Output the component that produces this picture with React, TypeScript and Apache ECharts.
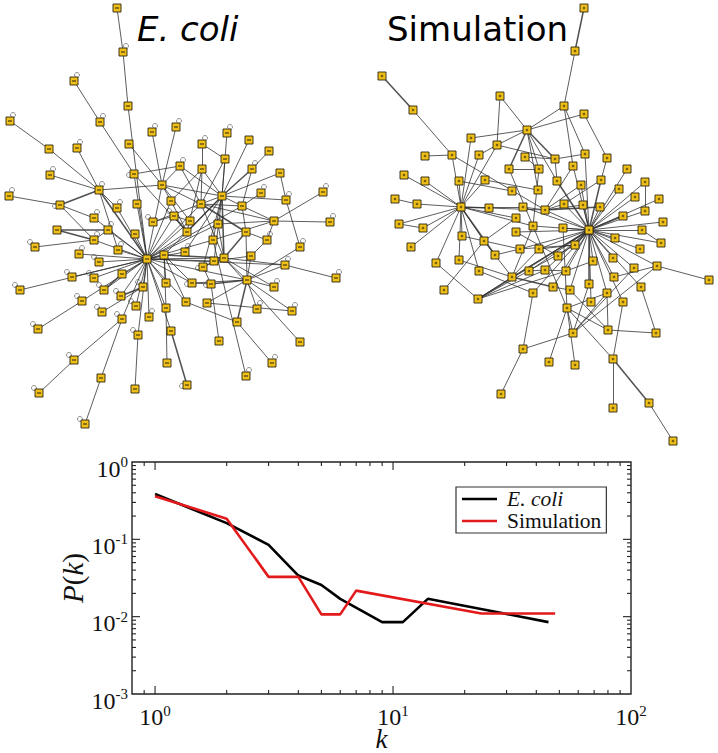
import React, { useEffect, useRef } from "react";
import * as echarts from "echarts";

const blackK = [1, 2, 3, 4, 5, 6, 9, 11, 14, 24, 45];
const blackP = [0.385, 0.162, 0.085, 0.034, 0.0257, 0.017, 0.0085, 0.0085, 0.017, 0.0124, 0.0085];
const redK = [1, 2, 3, 4, 5, 6, 7, 23.5, 48];
const redP = [0.36, 0.185, 0.0327, 0.0327, 0.0107, 0.0107, 0.0217, 0.011, 0.011];
const xMajor = [1, 10];
const xMinor = [0.9, 2, 3, 4, 5, 6, 7, 8, 9, 20, 30, 40, 50, 60, 70, 80, 90];
const yMajor = [0.1, 0.01];
const yMinor = [0.9, 0.8, 0.7, 0.6, 0.5, 0.4, 0.3, 0.2, 0.09, 0.08, 0.07, 0.06, 0.05, 0.04, 0.03, 0.02, 0.009, 0.008, 0.007, 0.006, 0.005, 0.004, 0.003, 0.002];
const xLabels = [1, 10, 100];
const yLabels = [1, 0.1, 0.01, 0.001];

const ecoliNodes: number[][] = [
  [117,8],[123,52],[128,106],[74,81],[100,122],[10,121],[49,149],[77,148],[129,144],[152,132],
  [176,127],[202,144],[227,133],[249,140],[269,151],[225,159],[180,166],[202,169],[252,169],[280,173],
  [134,174],[50,175],[162,185],[99,190],[222,196],[261,193],[323,192],[286,200],[9,196],[171,201],
  [60,205],[137,204],[201,204],[242,206],[117,208],[174,216],[94,218],[153,222],[190,221],[218,224],
  [274,221],[330,222],[246,232],[187,232],[135,234],[108,230],[57,230],[94,240],[213,240],[267,240],
  [118,250],[35,247],[300,247],[79,254],[185,252],[164,255],[147,259],[251,256],[224,258],[99,262],
  [214,261],[203,267],[285,265],[122,274],[72,277],[94,278],[247,280],[336,278],[166,283],[192,283],
  [211,284],[20,290],[104,290],[274,287],[143,287],[121,296],[82,301],[136,306],[186,302],[207,303],
  [166,308],[102,312],[257,309],[292,311],[149,317],[122,319],[38,329],[237,322],[171,331],[138,335],
  [219,341],[300,342],[74,360],[272,363],[167,363],[246,376],[101,378],[187,385],[135,389],[39,393],[85,424],
];
const ecoliEdges: number[][] = [
  [0,1],[1,2],[2,56],[3,4],[4,20],[5,6],[6,23],[7,23],[8,22],[9,22],[10,22],[22,56],[22,24],[22,32],[22,38],
  [16,20],[16,22],[16,24],[16,32],[11,15],[11,17],[17,32],[17,24],[12,24],[13,24],[15,24],[15,32],[14,18],
  [18,33],[19,24],[19,27],[27,52],[25,33],[26,40],[24,27],[23,22],[21,23],[28,30],[30,36],[30,47],[23,34],
  [23,50],[20,56],[20,43],[31,56],[34,56],[36,56],[35,37],[29,17],[29,22],[29,56],[35,56],[38,56],[54,56],
  [43,56],[39,56],[48,56],[32,56],[33,56],[76,86],[76,56],[85,92],[92,99],[85,96],[96,100],[89,98],[89,56],[94,80],
  [80,55],[88,56],[71,56],[64,56],[65,56],[66,57],[66,62],[66,73],[66,82],[66,83],[66,79],[66,69],[78,87],
  [87,93],[95,48],[79,83],[91,58],[66,52],[67,62],[62,58],[90,70],[70,69],[61,60],[61,58],[60,57],[57,49],
  [42,66],[24,60],[39,58],[32,58],[32,33],[32,40],[33,40],[33,24],[33,42],[39,40],[40,41],[40,48],[40,49],
  [42,49],[35,38],[24,48],[45,47],[45,56],[47,56],[51,47],[55,68],[55,69],[55,78],[55,56],[59,56],[53,56],
  [72,56],[75,56],[81,74],[77,56],[84,56],[78,56],[68,56],[58,56],[60,56],[62,56],[69,56],[66,56],[44,56],
  [50,56],[63,56],[74,56],[85,56],[80,56],[55,24],[54,24],[43,17],[37,24],[29,43],[61,24],[61,70],[58,66],[58,73],
];
const ecoliHeavy: number[][] = [
  [23,30],[23,56],[45,46],[46,47],[18,24],[58,42],[24,58],[32,42],[35,43],[43,24],[87,66],[70,66],[55,58],[97,88],[75,74],[72,63],
];
const ecoliLoopsUR = [1,3,4,5,7,9,10,11,12,16,18,21,25,26,27,28,36,34,47,45,50,41,49,52,53,54,73,83,84,62,67,93,95,82,23];
const ecoliLoopsUL = [37,51,59,64,65,71,72,75,76,81,85,86,89,92,99,100,77,35,74];
const ecoliLoopsL = [20,30,32,61,70,97,69];

const simNodes: number[][] = [
  [584,8],[575,51],[382,76],[413,110],[564,106],[500,96],[584,114],[527,130],[471,138],[497,145],
  [452,155],[425,156],[479,155],[525,157],[555,159],[585,154],[607,158],[573,166],[509,169],[539,169],
  [627,169],[404,175],[425,181],[459,181],[485,180],[557,181],[645,182],[581,185],[601,180],[619,189],
  [512,191],[538,190],[635,197],[659,199],[395,199],[417,204],[461,207],[489,208],[523,207],[564,204],
  [583,205],[600,207],[545,210],[645,211],[623,216],[516,218],[399,224],[423,228],[411,247],[663,222],
  [533,226],[563,228],[589,230],[642,230],[516,232],[462,236],[615,238],[484,241],[661,243],[575,245],
  [520,249],[539,249],[640,249],[495,255],[558,256],[613,258],[436,263],[459,260],[593,261],[657,266],
  [479,271],[529,271],[545,270],[566,271],[634,268],[614,277],[512,277],[709,280],[589,284],[553,287],
  [641,287],[444,290],[570,290],[533,293],[607,293],[478,299],[591,302],[623,302],[567,308],[573,333],
  [608,330],[656,333],[523,349],[613,359],[549,362],[575,365],[501,394],[649,403],[613,408],[673,441],
];
const simEdges: number[][] = [
  [1,4],[3,10],[4,7],[4,15],[4,17],[6,7],[6,16],[5,7],[5,9],[7,8],[7,9],[7,19],[7,31],[7,25],[8,36],[9,12],
  [9,14],[9,36],[12,36],[10,11],[10,36],[10,42],[13,14],[13,19],[14,15],[18,19],[19,50],[18,50],[14,25],
  [17,42],[15,52],[16,28],[27,42],[27,52],[17,52],[20,52],[29,52],[26,52],[26,43],[33,52],[32,52],[43,52],
  [41,52],[40,52],[39,52],[38,52],[42,52],[21,36],[22,36],[23,36],[23,30],[24,36],[24,31],[34,35],[35,36],
  [36,38],[36,45],[36,50],[36,46],[46,47],[47,36],[48,36],[55,36],[66,36],[67,36],[70,36],[57,36],[39,42],
  [40,42],[52,49],[52,53],[53,58],[52,58],[52,62],[52,56],[52,65],[52,68],[52,75],[52,74],[52,80],[52,84],
  [52,87],[52,86],[52,82],[52,79],[52,73],[52,64],[52,61],[52,60],[52,54],[52,50],[52,51],[52,72],[52,71],
  [52,76],[52,83],[52,69],[69,77],[69,75],[69,89],[80,91],[90,91],[90,88],[90,84],[90,82],[89,92],[89,88],
  [89,84],[89,74],[89,78],[87,93],[88,93],[88,84],[93,98],[97,99],[88,94],[88,95],[88,51],[92,83],[92,96],
  [88,50],[79,82],[55,60],[57,76],[81,57],[57,45],[66,85],[67,76],[70,83],[85,72],[60,63],[61,76],[50,76],
  [71,72],[72,73],[73,68],[64,54],[60,59],[61,59],[37,42],[38,42],[28,39],[85,76],[85,73],[85,59],
];
const simHeavy: number[][] = [
  [0,1],[2,3],[7,18],[7,14],[28,52],[25,52],[44,52],[36,37],[36,63],[42,41],[76,79],[93,97],[52,78],[52,59],[52,85],
];

function App() {
  const ref = useRef<HTMLDivElement>(null);
  useEffect(() => {
    document.body.style.margin = "0";
    const chart = echarts.init(ref.current!, undefined, { renderer: "svg" });
    const serif = "Liberation Serif";
    const edgeLinks = (thin: number[][], heavy: number[][]) => [
      ...thin.map(([source, target]) => ({ source, target, lineStyle: { width: 0.9, color: "#2a2a2a", opacity: 0.85 } })),
      ...heavy.map(([source, target]) => ({ source, target, lineStyle: { width: 1.5, color: "#333", opacity: 0.85 } })),
    ];
    const graph = (nodes: number[][], links: any[]) => ({
      type: "graph", layout: "none", coordinateSystem: "cartesian2d", xAxisIndex: 1, yAxisIndex: 1,
      symbol: "rect", symbolSize: 8, silent: true, z: 3, data: nodes, links,
      edgeSymbol: ["none", "none"],
      itemStyle: { color: "#f0c018", borderColor: "#2b2410", borderWidth: 0.9, opacity: 1 },
      label: { show: false }, emphasis: { disabled: true },
    });
    const at = (ids: number[], dx: number, dy: number) => ids.map((i) => [ecoliNodes[i][0] + dx, ecoliNodes[i][1] + dy]);
    const loops = [...at(ecoliLoopsUR, 3, -6), ...at(ecoliLoopsUL, -5, -5), ...at(ecoliLoopsL, -5, 1)];
    const tickRows: number[][] = [];
    const pushX = (v: number, len: number) => { tickRows.push([v, 0.001, 0, -len]); tickRows.push([v, 1, 0, len]); };
    const pushY = (v: number, len: number) => { tickRows.push([0.8, v, len, 0]); tickRows.push([100, v, -len, 0]); };
    xMajor.forEach((v) => pushX(v, 8));
    xMinor.forEach((v) => pushX(v, 4));
    yMajor.forEach((v) => pushY(v, 8));
    yMinor.forEach((v) => pushY(v, 4));
    const pow = (v: number) => `{b|10}{s|${Math.round(Math.log10(v))}}`;
    const labelRich = {
      b: { fontFamily: serif, fontSize: 24, color: "#111", verticalAlign: "bottom", lineHeight: 26 },
      s: { fontFamily: serif, fontSize: 15, color: "#111", verticalAlign: "top", lineHeight: 26 },
    };
    const nameRich = {
      i: { fontFamily: serif, fontStyle: "italic", fontSize: 29, lineHeight: 24, color: "#111" },
      r: { fontFamily: serif, fontSize: 29, lineHeight: 24, color: "#111" },
      k: { fontFamily: serif, fontStyle: "italic", fontSize: 27, lineHeight: 20, color: "#111" },
    };
    chart.setOption({
      animation: false,
      backgroundColor: "#fff",
      title: [
        { text: "E. coli", left: 137, top: 12, padding: 0, textStyle: { fontFamily: "DejaVu Sans", fontStyle: "italic", fontWeight: "normal", fontSize: 34, color: "#000" } },
        { text: "Simulation", left: 387, top: 12, padding: 0, textStyle: { fontFamily: "DejaVu Sans", fontWeight: "normal", fontSize: 34, color: "#000" } },
      ],
      grid: [
        { left: 132, right: 87, top: 462, bottom: 59, show: true, outerBoundsMode: "none", borderColor: "#222", borderWidth: 1.4, backgroundColor: "transparent" },
        { left: 0, top: 0, width: 718, height: 753, show: false, outerBoundsMode: "none" },
      ],
      legend: {
        show: true, orient: "vertical", left: 456, top: 487, padding: [1, 5, 1, 6], itemGap: 0,
        itemWidth: 35, itemHeight: 22, borderColor: "#333", borderWidth: 1.2, backgroundColor: "#fff",
        icon: "path://M0,10 L35,10 L35,12.5 L0,12.5 Z",
        textStyle: { fontFamily: serif, fontSize: 21.5, lineHeight: 22, color: "#111", padding: [0, 0, 0, 5] },
        data: [
          { name: "E. coli", textStyle: { fontStyle: "italic" } },
          { name: "Simulation" },
        ],
      },
      xAxis: [
        {
          type: "log", logBase: 10, gridIndex: 0, min: 0.8, max: 100, splitLine: { show: false },
          axisLine: { show: false }, axisTick: { show: false },
          axisLabel: { customValues: xLabels, margin: 9, formatter: pow, rich: labelRich, showMinLabel: true, showMaxLabel: true, hideOverlap: false },
          name: "{k|k}", nameLocation: "middle", nameGap: 35, nameMoveOverlap: false,
          nameTextStyle: { rich: nameRich },
        },
        { type: "value", gridIndex: 1, min: 0, max: 718, show: false },
      ],
      yAxis: [
        {
          type: "log", logBase: 10, gridIndex: 0, min: 0.001, max: 1, splitLine: { show: false },
          axisLine: { show: false }, axisTick: { show: false },
          axisLabel: { customValues: yLabels, margin: 4, formatter: pow, rich: labelRich, showMinLabel: true, showMaxLabel: true, padding: [11, 0, 0, 0] },
          name: "{i|P}{r|(}{i|k}{r|)}", nameLocation: "middle", nameGap: 47, nameMoveOverlap: false, nameRotate: 90,
          nameTextStyle: { rich: nameRich },
        },
        { type: "value", gridIndex: 1, min: 0, max: 753, inverse: true, show: false },
      ],
      series: [
        { name: "E. coli", type: "line", xAxisIndex: 0, yAxisIndex: 0, data: blackK.map((k, i) => [k, blackP[i]]), showSymbol: false, symbol: "none", color: "#000", lineStyle: { color: "#000", width: 2.6 }, z: 4 },
        { name: "Simulation", type: "line", xAxisIndex: 0, yAxisIndex: 0, data: redK.map((k, i) => [k, redP[i]]), showSymbol: false, symbol: "none", color: "#e31a1c", lineStyle: { color: "#e31a1c", width: 2.6 }, z: 4 },
        {
          type: "custom", xAxisIndex: 0, yAxisIndex: 0, silent: true, z: 5, data: tickRows, encode: { x: 0, y: 1 }, clip: false,
          renderItem: (_p: any, api: any) => {
            const c = api.coord([api.value(0), api.value(1)]);
            return { type: "line", shape: { x1: c[0], y1: c[1], x2: c[0] + api.value(2), y2: c[1] + api.value(3) }, style: { stroke: "#222", lineWidth: 1.1 } };
          },
        },
        { type: "scatter", xAxisIndex: 1, yAxisIndex: 1, silent: true, z: 2, data: loops, symbol: "circle", symbolSize: 5, itemStyle: { color: "#fff", borderColor: "#666", borderWidth: 0.9 } },
        graph(ecoliNodes, edgeLinks(ecoliEdges, ecoliHeavy)),
        graph(simNodes, edgeLinks(simEdges, simHeavy)),
        { type: "scatter", xAxisIndex: 1, yAxisIndex: 1, silent: true, z: 6, data: ecoliNodes, symbol: "rect", symbolSize: [4, 1.4], itemStyle: { color: "#3a2f10" } },
        { type: "scatter", xAxisIndex: 1, yAxisIndex: 1, silent: true, z: 6, data: simNodes, symbol: "rect", symbolSize: [2.4, 2.4], itemStyle: { color: "#5a4a10" } },
      ],
    });
    return () => chart.dispose();
  }, []);
  return <div ref={ref} style={{ width: 718, height: 753 }} />;
}

export default App;
